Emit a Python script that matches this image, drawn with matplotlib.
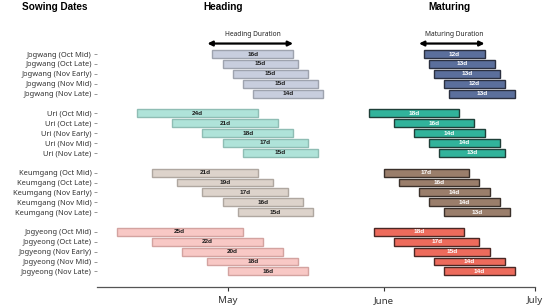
import numpy as np
import pandas as pd
import matplotlib
matplotlib.use("Agg")
import matplotlib.pyplot as plt
import matplotlib.dates as mdates

# Données : début de phase et durée en jours
varieties = ["Jogwang", "Uri", "Keumgang", "Jogyeong"]
sowings = ["Oct Mid", "Oct Late", "Nov Early", "Nov Mid", "Nov Late"]

heading_start = {
    "Jogwang": ["2023-04-28", "2023-04-30", "2023-05-02", "2023-05-04", "2023-05-06"],
    "Uri": ["2023-04-13", "2023-04-20", "2023-04-26", "2023-04-30", "2023-05-04"],
    "Keumgang": ["2023-04-16", "2023-04-21", "2023-04-26", "2023-04-30", "2023-05-03"],
    "Jogyeong": ["2023-04-09", "2023-04-16", "2023-04-22", "2023-04-27", "2023-05-01"],
}
heading_days = {
    "Jogwang": [16, 15, 15, 15, 14],
    "Uri": [24, 21, 18, 17, 15],
    "Keumgang": [21, 19, 17, 16, 15],
    "Jogyeong": [25, 22, 20, 18, 16],
}
maturing_start = {
    "Jogwang": ["2023-06-09", "2023-06-10", "2023-06-11", "2023-06-13", "2023-06-14"],
    "Uri": ["2023-05-29", "2023-06-03", "2023-06-07", "2023-06-10", "2023-06-12"],
    "Keumgang": ["2023-06-01", "2023-06-04", "2023-06-08", "2023-06-10", "2023-06-13"],
    "Jogyeong": ["2023-05-30", "2023-06-03", "2023-06-07", "2023-06-11", "2023-06-13"],
}
maturing_days = {
    "Jogwang": [12, 13, 13, 12, 13],
    "Uri": [18, 16, 14, 14, 13],
    "Keumgang": [17, 16, 14, 14, 13],
    "Jogyeong": [18, 17, 15, 14, 14],
}

# Couleurs : (remplissage épiaison, bord épiaison, remplissage maturité, bord maturité)
colors = {
    "Jogwang": ("#c8cede", "#9ea3ae", "#5b6f9c", "#2b3040"),
    "Uri": ("#afe3d9", "#8fbdb4", "#31b39b", "#1f3f38"),
    "Keumgang": ("#ddd3cb", "#afa7a0", "#9a7e6b", "#3a302a"),
    "Jogyeong": ("#f8c8c5", "#d3a3a0", "#ed6b5c", "#4a2824"),
}

plt.rcParams['font.family'] = ['Noto Sans', 'DejaVu Sans']
BOLD = ['Liberation Sans', 'DejaVu Sans']

fig = plt.figure(figsize=(5.52, 3.05), dpi=100)
ax = fig.add_axes([0.175, 0.059, 0.794, 0.875])

yticks, ylabels = [], []
for g, v in enumerate(varieties):
    ys = [g * 6 + i for i in range(len(sowings))]
    yticks += ys
    ylabels += [f"{v} ({s})" for s in sowings]
    hf, he, mf, me = colors[v]

    hs = mdates.date2num(pd.to_datetime(heading_start[v]))
    ax.barh(ys, heading_days[v], left=hs, height=0.8, color=hf,
            edgecolor=he, linewidth=1.0)
    for y, s, d in zip(ys, hs, heading_days[v]):
        ax.text(s + d / 2, y, f"{d}d", ha='center', va='center', family=BOLD,
                fontsize=4.6, fontweight='bold', color='#1a1a1a')

    ms = mdates.date2num(pd.to_datetime(maturing_start[v]))
    ax.barh(ys, maturing_days[v], left=ms, height=0.8, color=mf,
            edgecolor=me, linewidth=1.0)
    for y, s, d in zip(ys, ms, maturing_days[v]):
        ax.text(s + d / 2, y, f"{d}d", ha='center', va='center', family=BOLD,
                fontsize=4.6, fontweight='bold', color='white')

# Flèches de durée au-dessus de la première barre
first = varieties[0]
for starts, days, label in [(heading_start, heading_days, "Heading Duration"),
                            (maturing_start, maturing_days, "Maturing Duration")]:
    s = mdates.date2num(pd.to_datetime(starts[first][0]))
    e = s + days[first][0]
    ax.annotate("", xy=(s - 1, -1.07), xytext=(e, -1.07),
                arrowprops=dict(arrowstyle='<|-|>', lw=1.6, color='black',
                                mutation_scale=7, shrinkA=0, shrinkB=0))
    ax.text((s + e) / 2, -2.0, label, ha='center', va='center',
            fontsize=4.8, color='#222222')

ax.set_yticks(yticks)
ax.set_yticklabels(ylabels, fontsize=5.4, color='#333333')
ax.set_ylim(23.58, -3.44)
ax.set_xlim(mdates.date2num(pd.Timestamp("2023-04-05")),
            mdates.date2num(pd.Timestamp("2023-07-01")))
ax.xaxis.set_major_locator(mdates.MonthLocator())
ax.xaxis.set_major_formatter(mdates.DateFormatter('%B'))
ax.tick_params(axis='x', labelsize=7, colors='#333333', length=3, width=0.8)
ax.tick_params(axis='y', length=2.5, width=0.6, colors='#888888', pad=1,
               labelcolor='#333333')

for side in ['top', 'right', 'left']:
    ax.spines[side].set_visible(False)
ax.spines['bottom'].set_color('#555555')
ax.spines['bottom'].set_linewidth(0.9)

fig.text(0.04, 0.977, "Sowing Dates", fontsize=7.2, fontweight='bold',
         family=BOLD, ha='left', va='center')
fig.text(0.404, 0.977, "Heading", fontsize=7.2, fontweight='bold',
         family=BOLD, ha='center', va='center')
fig.text(0.815, 0.977, "Maturing", fontsize=7.2, fontweight='bold',
         family=BOLD, ha='center', va='center')

fig.savefig("out.png", dpi=100)
plt.close(fig)
